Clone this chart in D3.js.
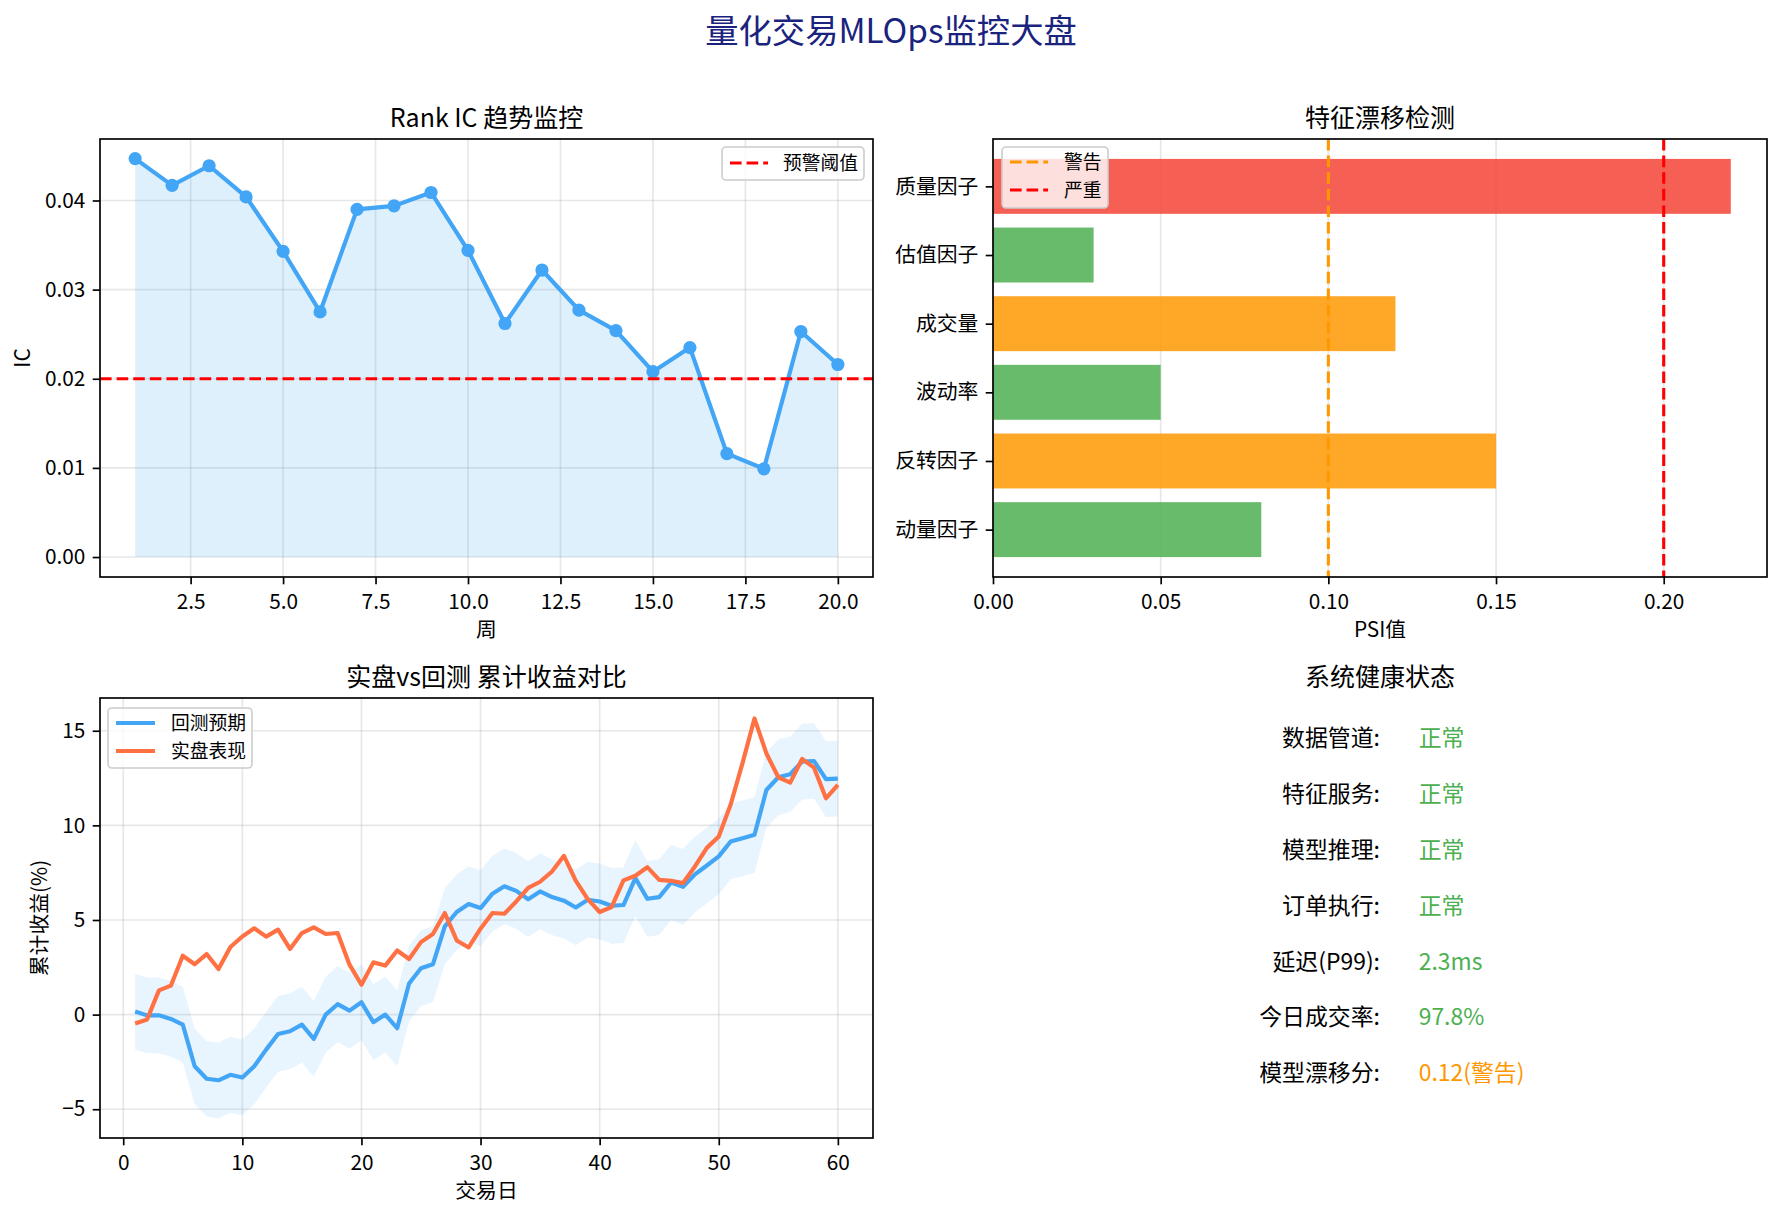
<!DOCTYPE html>
<html><head><meta charset="utf-8">
<script src="https://cdn.jsdelivr.net/npm/d3@7"></script>
<style>
body{margin:0;background:#fff;}
text{font-family:"Noto Sans CJK SC","Noto Sans",sans-serif;fill:#000;}
</style></head><body>
<svg id="c" width="1782" height="1215" xmlns="http://www.w3.org/2000/svg"></svg>
<script>
// ---------------- DATA ----------------
const mainTitle = "量化交易MLOps监控大盘";

const weeks = [1,2,3,4,5,6,7,8,9,10,11,12,13,14,15,16,17,18,19,20];
const rankIC = [0.0447,0.0417,0.0439,0.0404,0.0343,0.0275,0.0390,0.0394,0.0409,0.0344,
                0.0262,0.0322,0.0277,0.0254,0.0208,0.0235,0.0116,0.0099,0.0253,0.0216];
const icThreshold = 0.02;
const icXTicks = [2.5,5.0,7.5,10.0,12.5,15.0,17.5,20.0];
const icYTicks = [0.00,0.01,0.02,0.03,0.04];

const features = ["动量因子","反转因子","波动率","成交量","估值因子","质量因子"];
const psiValues = [0.08,0.15,0.05,0.12,0.03,0.22];
const psiWarn = 0.10;
const psiCritical = 0.20;
const psiTicks = [0.00,0.05,0.10,0.15,0.20];

const days = [1,2,3,4,5,6,7,8,9,10,11,12,13,14,15,16,17,18,19,20,
              21,22,23,24,25,26,27,28,29,30,31,32,33,34,35,36,37,38,39,40,
              41,42,43,44,45,46,47,48,49,50,51,52,53,54,55,56,57,58,59,60];
const backtest = [0.16,-0.04,-0.04,-0.23,-0.53,-2.73,-3.39,-3.47,-3.18,-3.32,
                  -2.73,-1.85,-1.02,-0.88,-0.53,-1.28,0.00,0.55,0.21,0.65,
                  -0.40,0.00,-0.72,1.64,2.45,2.66,4.66,5.42,5.84,5.63,
                  6.39,6.78,6.54,6.10,6.51,6.21,6.02,5.66,6.07,5.98,
                  5.75,5.79,7.21,6.12,6.21,6.98,6.75,7.41,7.88,8.36,
                  9.15,9.32,9.50,11.87,12.54,12.70,13.37,13.40,12.44,12.47];
const live = [-0.47,-0.26,1.28,1.53,3.11,2.66,3.20,2.41,3.57,4.13,
              4.56,4.12,4.49,3.47,4.31,4.61,4.26,4.31,2.64,1.58,
              2.76,2.59,3.39,2.94,3.83,4.26,5.37,3.92,3.55,4.54,
              5.37,5.33,5.98,6.70,7.02,7.56,8.39,7.07,6.10,5.42,
              5.68,7.09,7.34,7.79,7.12,7.07,6.95,7.83,8.81,9.41,
              11.10,13.30,15.65,13.80,12.54,12.26,13.51,13.05,11.43,12.14];
const bandHalfWidth = 2;
const retXTicks = [0,10,20,30,40,50,60];
const retYTicks = [-5,0,5,10,15];
const seriesNames = ["回测预期","实盘表现"];

const statusLabels = ["数据管道:","特征服务:","模型推理:","订单执行:","延迟(P99):","今日成交率:","模型漂移分:"];
const statusValues = ["正常","正常","正常","正常","2.3ms","97.8%","0.12(警告)"];
const statusLevels = ["ok","ok","ok","ok","ok","ok","warn"];

// ---------------- STYLE ----------------
const C = {blue:"#42A5F5", orange:"#FF7043", red:"#F44336", green:"#4CAF50", amber:"#FF9800",
           threshRed:"#FF0000", navy:"#1A237E", grid:"#b0b0b0"};
const FS = {tick:20.8, label:20.8, title:25, legend:18.75, status:22.9, main:33.3};
const TICK = 7.3, PAD = 7.3, SPINE = 1.67;
const DASH = "11.6,5";

const svg = d3.select("#c");
svg.append("rect").attr("width",1782).attr("height",1215).attr("fill","#fff");

svg.append("text").attr("x",891).attr("y",43).attr("text-anchor","middle")
  .attr("font-size",FS.main).style("fill",C.navy).text(mainTitle);

function styleAxis(g){
  g.selectAll(".domain").remove();
  g.selectAll(".tick line").attr("stroke","#000").attr("stroke-width",SPINE);
  g.selectAll(".tick text").attr("font-size",FS.tick).style("fill","#000")
    .attr("font-family","Noto Sans CJK SC");
}
function frame(g, b){
  g.append("rect").attr("x",b.x0).attr("y",b.y0).attr("width",b.x1-b.x0).attr("height",b.y1-b.y0)
   .attr("fill","none").attr("stroke","#000").attr("stroke-width",SPINE);
}
function title(g, b, t){
  g.append("text").attr("x",(b.x0+b.x1)/2).attr("y",b.y0-12.5).attr("text-anchor","middle")
   .attr("font-size",FS.title).text(t);
}
function legendBox(g, x, y, w, h){
  g.append("rect").attr("x",x).attr("y",y).attr("width",w).attr("height",h).attr("rx",4)
   .attr("fill","#fff").attr("fill-opacity",0.8).attr("stroke","#cccccc").attr("stroke-width",1.6);
}

// ---------------- PANEL 1: Rank IC ----------------
{
  const b = {x0:100,x1:873,y0:139,y1:577};
  const g = svg.append("g");
  const x = d3.scaleLinear().domain([0.05,20.95]).range([b.x0,b.x1]);
  const y = d3.scaleLinear().domain([-0.00224,0.0469]).range([b.y1,b.y0]);
  g.append("g").selectAll("line").data(icXTicks).join("line")
    .attr("x1",d=>x(d)).attr("x2",d=>x(d)).attr("y1",b.y0).attr("y2",b.y1)
    .attr("stroke",C.grid).attr("stroke-opacity",0.3).attr("stroke-width",1.67);
  g.append("g").selectAll("line").data(icYTicks).join("line")
    .attr("y1",d=>y(d)).attr("y2",d=>y(d)).attr("x1",b.x0).attr("x2",b.x1)
    .attr("stroke",C.grid).attr("stroke-opacity",0.3).attr("stroke-width",1.67);
  const pts = weeks.map((w,i)=>[w,rankIC[i]]);
  g.append("path").datum(pts)
    .attr("d",d3.area().x(d=>x(d[0])).y0(y(0)).y1(d=>y(d[1])))
    .attr("fill",C.blue).attr("fill-opacity",0.17);
  g.append("path").datum(pts)
    .attr("d",d3.line().x(d=>x(d[0])).y(d=>y(d[1])))
    .attr("fill","none").attr("stroke",C.blue).attr("stroke-width",4.17).attr("stroke-linejoin","round");
  g.append("g").selectAll("circle").data(pts).join("circle")
    .attr("cx",d=>x(d[0])).attr("cy",d=>y(d[1])).attr("r",6.6).attr("fill",C.blue);
  g.append("line").attr("x1",b.x0).attr("x2",b.x1).attr("y1",y(icThreshold)).attr("y2",y(icThreshold))
    .attr("stroke",C.threshRed).attr("stroke-width",3.1).attr("stroke-dasharray",DASH);
  const ax = g.append("g").attr("transform",`translate(0,${b.y1})`)
    .call(d3.axisBottom(x).tickValues(icXTicks).tickFormat(d3.format(".1f")).tickSize(TICK).tickPadding(PAD+3));
  styleAxis(ax);
  const ay = g.append("g").attr("transform",`translate(${b.x0},0)`)
    .call(d3.axisLeft(y).tickValues(icYTicks).tickFormat(d3.format(".2f")).tickSize(TICK).tickPadding(PAD));
  styleAxis(ay);
  frame(g,b);
  title(g,b,"Rank IC 趋势监控");
  g.append("text").attr("x",(b.x0+b.x1)/2).attr("y",637).attr("text-anchor","middle").attr("font-size",FS.label).text("周");
  g.append("text").attr("transform",`translate(30,${(b.y0+b.y1)/2}) rotate(-90)`).attr("text-anchor","middle")
    .attr("font-size",FS.label).text("IC");
  legendBox(g,722,147,142,33);
  g.append("line").attr("x1",730).attr("x2",768).attr("y1",163).attr("y2",163)
    .attr("stroke",C.threshRed).attr("stroke-width",3.1).attr("stroke-dasharray",DASH);
  g.append("text").attr("x",783).attr("y",170).attr("font-size",FS.legend).text("预警阈值");
}

// ---------------- PANEL 2: PSI bars ----------------
{
  const b = {x0:993,x1:1767,y0:139,y1:577};
  const g = svg.append("g");
  const x = d3.scaleLinear().domain([0,0.2308]).range([b.x0,b.x1]);
  const y = d3.scaleLinear().domain([-0.69,5.69]).range([b.y1,b.y0]);
  g.append("g").selectAll("line").data(psiTicks).join("line")
    .attr("x1",d=>x(d)).attr("x2",d=>x(d)).attr("y1",b.y0).attr("y2",b.y1)
    .attr("stroke",C.grid).attr("stroke-opacity",0.3).attr("stroke-width",1.67);
  const colorOf = v => v>=psiCritical ? C.red : (v>=psiWarn ? C.amber : C.green);
  g.append("g").selectAll("rect").data(features).join("rect")
    .attr("x",x(0)).attr("y",(d,i)=>y(i+0.4)).attr("height",(d,i)=>y(i-0.4)-y(i+0.4))
    .attr("width",(d,i)=>x(psiValues[i])-x(0))
    .attr("fill",(d,i)=>colorOf(psiValues[i])).attr("fill-opacity",0.85);
  [[psiWarn,C.amber],[psiCritical,C.threshRed]].forEach(([v,c])=>{
    g.append("line").attr("x1",x(v)).attr("x2",x(v)).attr("y1",b.y0).attr("y2",b.y1)
     .attr("stroke",c).attr("stroke-width",3.1).attr("stroke-dasharray",DASH);
  });
  const ax = g.append("g").attr("transform",`translate(0,${b.y1})`)
    .call(d3.axisBottom(x).tickValues(psiTicks).tickFormat(d3.format(".2f")).tickSize(TICK).tickPadding(PAD+3));
  styleAxis(ax);
  const ay = g.append("g").attr("transform",`translate(${b.x0},0)`)
    .call(d3.axisLeft(y).tickValues(d3.range(features.length)).tickFormat(i=>features[i]).tickSize(TICK).tickPadding(PAD));
  styleAxis(ay);
  frame(g,b);
  title(g,b,"特征漂移检测");
  g.append("text").attr("x",(b.x0+b.x1)/2).attr("y",637).attr("text-anchor","middle").attr("font-size",FS.label).text("PSI值");
  legendBox(g,1002,147,106,61);
  [["警告",C.amber,162],["严重",C.threshRed,190]].forEach(([t,c,yy])=>{
    g.append("line").attr("x1",1010).attr("x2",1048).attr("y1",yy).attr("y2",yy)
     .attr("stroke",c).attr("stroke-width",3.1).attr("stroke-dasharray",DASH);
    g.append("text").attr("x",1064).attr("y",yy+7).attr("font-size",FS.legend).text(t);
  });
}

// ---------------- PANEL 3: cumulative returns ----------------
{
  const b = {x0:100,x1:873,y0:698,y1:1138};
  const g = svg.append("g");
  const x = d3.scaleLinear().domain([-1.95,62.95]).range([b.x0,b.x1]);
  const y = d3.scaleLinear().domain([-6.52,16.73]).range([b.y1,b.y0]);
  g.append("g").selectAll("line").data(retXTicks).join("line")
    .attr("x1",d=>x(d)).attr("x2",d=>x(d)).attr("y1",b.y0).attr("y2",b.y1)
    .attr("stroke",C.grid).attr("stroke-opacity",0.3).attr("stroke-width",1.67);
  g.append("g").selectAll("line").data(retYTicks).join("line")
    .attr("y1",d=>y(d)).attr("y2",d=>y(d)).attr("x1",b.x0).attr("x2",b.x1)
    .attr("stroke",C.grid).attr("stroke-opacity",0.3).attr("stroke-width",1.67);
  const bt = days.map((d,i)=>[d,backtest[i]]);
  const lv = days.map((d,i)=>[d,live[i]]);
  g.append("path").datum(bt)
    .attr("d",d3.area().x(d=>x(d[0])).y0(d=>y(d[1]-bandHalfWidth)).y1(d=>y(d[1]+bandHalfWidth)))
    .attr("fill",C.blue).attr("fill-opacity",0.12);
  const line = d3.line().x(d=>x(d[0])).y(d=>y(d[1]));
  g.append("path").datum(bt).attr("d",line).attr("fill","none").attr("stroke",C.blue)
    .attr("stroke-width",4.17).attr("stroke-linejoin","round");
  g.append("path").datum(lv).attr("d",line).attr("fill","none").attr("stroke",C.orange)
    .attr("stroke-width",4.17).attr("stroke-linejoin","round");
  const ax = g.append("g").attr("transform",`translate(0,${b.y1})`)
    .call(d3.axisBottom(x).tickValues(retXTicks).tickFormat(d3.format("d")).tickSize(TICK).tickPadding(PAD+3));
  styleAxis(ax);
  const ay = g.append("g").attr("transform",`translate(${b.x0},0)`)
    .call(d3.axisLeft(y).tickValues(retYTicks).tickFormat(d=>d<0?"\u2212"+Math.abs(d):String(d)).tickSize(TICK).tickPadding(PAD));
  styleAxis(ay);
  frame(g,b);
  title(g,b,"实盘vs回测 累计收益对比");
  g.append("text").attr("x",(b.x0+b.x1)/2).attr("y",1198).attr("text-anchor","middle").attr("font-size",FS.label).text("交易日");
  g.append("text").attr("transform",`translate(47,${(b.y0+b.y1)/2}) rotate(-90)`).attr("text-anchor","middle")
    .attr("font-size",FS.label).text("累计收益(%)");
  legendBox(g,108,708,144,60);
  [[seriesNames[0],C.blue,723],[seriesNames[1],C.orange,751]].forEach(([t,c,yy])=>{
    g.append("line").attr("x1",116).attr("x2",155).attr("y1",yy).attr("y2",yy)
     .attr("stroke",c).attr("stroke-width",4.17);
    g.append("text").attr("x",171).attr("y",yy+7).attr("font-size",FS.legend).text(t);
  });
}

// ---------------- PANEL 4: system health ----------------
{
  const b = {x0:993,x1:1767,y0:698,y1:1138};
  const g = svg.append("g");
  title(g,b,"系统健康状态");
  const ry = d3.scalePoint().domain(d3.range(statusLabels.length)).range([738.3,1073.3]);
  const cx = (b.x0+b.x1)/2;
  const vx = b.x0 + 0.55*(b.x1-b.x0);
  statusLabels.forEach((t,i)=>{
    g.append("text").attr("x",cx).attr("y",ry(i)+8).attr("text-anchor","end")
      .attr("font-size",FS.status).text(t);
    g.append("text").attr("x",vx).attr("y",ry(i)+8).attr("text-anchor","start")
      .attr("font-size",FS.status).style("fill",statusLevels[i]==="warn"?C.amber:C.green).text(statusValues[i]);
  });
}
</script>
</body></html>
